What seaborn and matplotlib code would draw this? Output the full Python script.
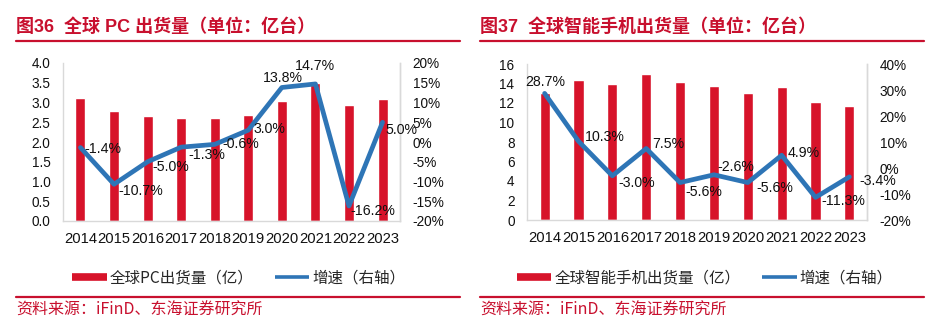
import numpy as np
import matplotlib
matplotlib.use("Agg")
import matplotlib.pyplot as plt
from matplotlib.lines import Line2D
from matplotlib.ticker import FuncFormatter, MultipleLocator
import seaborn as sns

# ---------------- data ----------------
years = ["2014", "2015", "2016", "2017", "2018", "2019", "2020", "2021", "2022", "2023"]
pc_shipments = [3.12, 2.79, 2.65, 2.62, 2.60, 2.68, 3.05, 3.50, 2.93, 3.08]
pc_growth = [-1.4, -10.7, -5.0, -1.3, -0.6, 3.0, 13.8, 14.7, -16.2, 5.0]
phone_shipments = [12.99, 14.36, 13.95, 14.97, 14.15, 13.78, 13.03, 13.64, 12.10, 11.69]
phone_growth = [28.7, 10.3, -3.0, 7.5, -5.6, -2.6, -5.6, 4.9, -11.3, -3.4]

title_left = "图36  全球 PC 出货量（单位：亿台）"
title_right = "图37  全球智能手机出货量（单位：亿台）"
legend_bar_left = "全球PC出货量（亿）"
legend_bar_right = "全球智能手机出货量（亿）"
legend_line = "增速（右轴）"
source_text = "资料来源：iFinD、东海证券研究所"

# label placement (style): offsets in pixels and alignment
left_offsets = [(4, -1), (4, -7), (5, -5), (7, -8), (8, 0), (5, 1), (1, 9), (0, 18), (1, -5), (3, -8)]
left_ha = ["left"] * 6 + ["center", "center"] + ["left"] * 2
right_offsets = [(1, 11), (6, 4), (6, -7), (6, 4), (5, -9), (3, 8), (9, -5), (6, 2), (6, -4), (10, -4)]
right_ha = ["center"] + ["left"] * 9

# ---------------- style ----------------
sns.set_theme(style="white")
plt.rcParams["font.family"] = ["Liberation Sans", "Noto Sans CJK SC", "DejaVu Sans"]
plt.rcParams["axes.unicode_minus"] = False

RED = "#D7132A"
TITLE_RED = "#C8102E"
BLUE = "#2E75B6"
SPINE = "#D9D9D9"
CJK = ["Noto Sans CJK SC", "DejaVu Sans"]

W, H = 939, 326
fig = plt.figure(figsize=(W / 100, H / 100), dpi=100)


def fx(px):
    return px / W


def fy(py):
    return (H - py) / H


def panel(rect, bars, growth, ymax, ystep, yfmt, glim, gstep, offsets, has):
    ax = fig.add_axes(rect)
    x = np.arange(len(years))
    sns.barplot(x=years, y=bars, color=RED, width=0.3, saturation=1, ax=ax)
    ax.set_xlim(-0.52, len(years) - 0.48)
    ax.set_ylim(0, ymax)
    ax.yaxis.set_major_locator(MultipleLocator(ystep))
    ax.yaxis.set_major_formatter(FuncFormatter(yfmt))
    ax.set_xlabel("")
    ax.set_ylabel("")
    for s in ["left", "bottom", "right"]:
        ax.spines[s].set_visible(True)
        ax.spines[s].set_color(SPINE)
        ax.spines[s].set_linewidth(1.0)
    ax.spines["top"].set_visible(False)
    ax.tick_params(axis="x", length=0, pad=8, labelsize=10.6, colors="#111111")
    ax.tick_params(axis="y", length=0, pad=9, labelsize=9.8, colors="#111111")

    ax2 = ax.twinx()
    sns.lineplot(x=x, y=growth, color=BLUE, linewidth=3.4, ax=ax2, legend=False)
    ax2.set_ylim(*glim)
    ax2.yaxis.set_major_locator(MultipleLocator(gstep))
    ax2.yaxis.set_major_formatter(FuncFormatter(lambda v, p: f"{v:.0f}%"))
    ax2.set_ylabel("")
    for s in ["left", "bottom", "top"]:
        ax2.spines[s].set_visible(False)
    ax2.spines["right"].set_color(SPINE)
    ax2.spines["right"].set_linewidth(1.0)
    ax2.tick_params(axis="y", length=0, pad=9, labelsize=9.8, colors="#111111")
    ax2.set_xlim(ax.get_xlim())

    for xi, g, off, ha in zip(x, growth, offsets, has):
        ax2.annotate(f"{g:.1f}%", (xi, g), xytext=off, textcoords="offset pixels",
                     ha=ha, va="center", fontsize=10.2, color="#111111")
    return ax, ax2


panel([fx(63), fy(221), fx(400) - fx(63), fy(63) - fy(221)],
      pc_shipments, pc_growth, 4.0, 0.5, lambda v, p: f"{v:.1f}",
      (-20, 20), 5, left_offsets, left_ha)
panel([fx(527), fy(220), fx(867) - fx(527), fy(64) - fy(220)],
      phone_shipments, phone_growth, 16, 2, lambda v, p: f"{v:.0f}",
      (-20, 40), 10, right_offsets, right_ha)

# titles & rules
for x0, x1, t in [(16, 460, title_left), (480, 924, title_right)]:
    fig.text(fx(x0), fy(27), t, color=TITLE_RED, fontsize=13, fontweight="bold",
             family=["Liberation Sans", "Noto Sans CJK SC"], ha="left", va="center")
    fig.add_artist(Line2D([fx(x0), fx(x1)], [fy(41), fy(41)], color=TITLE_RED, lw=1.6))
    fig.add_artist(Line2D([fx(x0), fx(x1)], [fy(297), fy(297)], color=TITLE_RED, lw=1.6))
    fig.text(fx(x0), fy(310), source_text, color=TITLE_RED, fontsize=11.5,
             family=CJK, ha="left", va="center")

# legends
for cx, lab in [(239, legend_bar_left), (705, legend_bar_right)]:
    handles = [Line2D([], [], color=RED, lw=5.5, solid_capstyle="butt"),
               Line2D([], [], color=BLUE, lw=2.6, solid_capstyle="butt")]
    leg = fig.legend(handles, [lab, legend_line], loc="center",
                     bbox_to_anchor=(fx(cx), fy(278)), ncol=2, frameon=False,
                     handlelength=2.2, handletextpad=0.2, columnspacing=1.4,
                     prop={"family": CJK, "size": 11.2})

fig.savefig("out.png", dpi=100)
